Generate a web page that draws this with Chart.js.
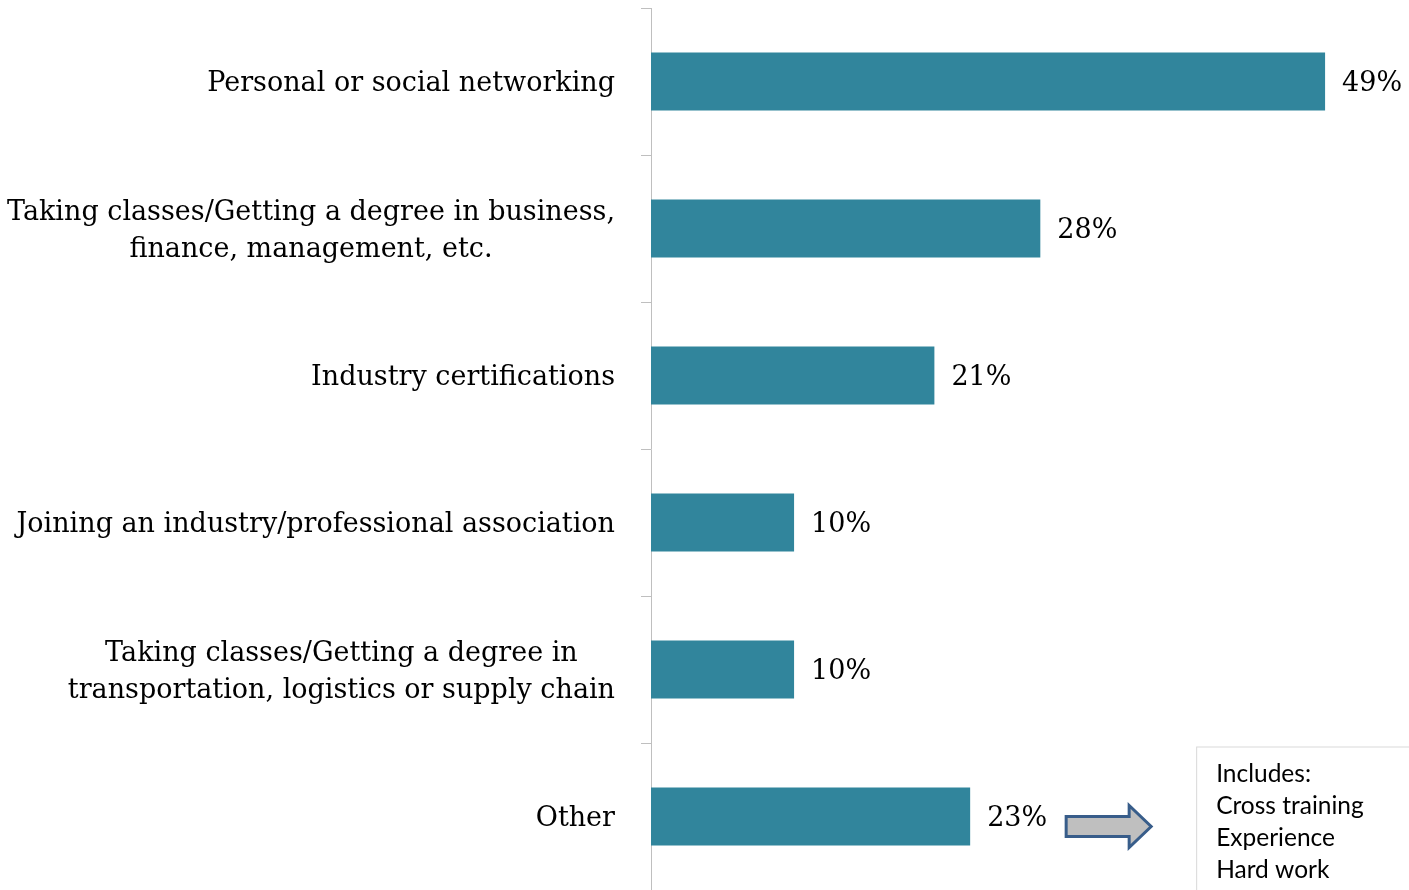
<!DOCTYPE html>
<html><head><meta charset="utf-8">
<script src="https://cdn.jsdelivr.net/npm/chart.js@4"></script>
<style>html,body{margin:0;padding:0;background:#fff;overflow:hidden}#wrap{width:1409px;height:890px}</style>
</head><body><div id="wrap"><canvas id="c" width="1409" height="890"></canvas></div>
<script>
const categories = [
  ["Personal or social networking"],
  ["Taking classes/Getting a degree in business,", "finance, management, etc."],
  ["Industry certifications"],
  ["Joining an industry/professional association"],
  ["Taking classes/Getting a degree in", "transportation, logistics or supply chain"],
  ["Other"]
];
const values = [49, 28.3, 20.6, 10.4, 10.4, 23.2];
const valueLabels = ["49%", "28%", "21%", "10%", "10%", "23%"];
const noteLines = ["Includes:", "Cross training", "Experience", "Hard work"];

const SERIF = '27px "DejaVu Serif", serif';
const SANS = '24.5px Lato, "Noto Sans", sans-serif';

const overlay = {
  id: 'overlay',
  afterDraw(chart) {
    const ctx = chart.ctx;
    const y = chart.scales.y;
    ctx.save();
    ctx.font = SERIF; ctx.fillStyle = '#000'; ctx.textBaseline = 'middle';
    const right = y.right - 10 - 26;
    categories.forEach((lines, i) => {
      const cy = y.getPixelForValue(i) + 2.5;
      const lh = 37;
      const w = Math.max(...lines.map(l => ctx.measureText(l).width));
      const top = cy - (lines.length - 1) * lh / 2;
      ctx.textAlign = 'center';
      lines.forEach((l, k) => ctx.fillText(l, right - w / 2, top + k * lh));
    });
    ctx.textAlign = 'left';
    const meta = chart.getDatasetMeta(0);
    meta.data.forEach((bar, i) => {
      ctx.fillText(valueLabels[i], bar.x + 17, bar.y + 2.5);
    });
    const last = meta.data[meta.data.length - 1];
    const ax = last.x + 96, ay = last.y + 10;
    ctx.beginPath();
    ctx.moveTo(ax, ay - 10);
    ctx.lineTo(ax + 63, ay - 10);
    ctx.lineTo(ax + 63, ay - 21);
    ctx.lineTo(ax + 85, ay);
    ctx.lineTo(ax + 63, ay + 21);
    ctx.lineTo(ax + 63, ay + 10);
    ctx.lineTo(ax, ay + 10);
    ctx.closePath();
    ctx.fillStyle = '#BFBFBF'; ctx.fill();
    ctx.lineWidth = 3; ctx.strokeStyle = '#385D8A'; ctx.lineJoin = 'miter'; ctx.stroke();
    const bx = last.x + 226, by = last.y - 70;
    ctx.fillStyle = '#fff';
    ctx.fillRect(bx, by, 400, 300);
    ctx.lineWidth = 1; ctx.strokeStyle = '#D9D9D9';
    ctx.strokeRect(bx + 0.5, by + 0.5, 400, 300);
    ctx.font = SANS; ctx.fillStyle = '#000'; ctx.textBaseline = 'middle';
    noteLines.forEach((l, k) => ctx.fillText(l, bx + 20, by + 28 + k * 32));
    ctx.restore();
  }
};

new Chart(document.getElementById('c'), {
  type: 'bar',
  data: {
    labels: categories,
    datasets: [{
      data: values,
      backgroundColor: '#31859C',
      borderWidth: 0,
      categoryPercentage: 1,
      barPercentage: 58 / 147
    }]
  },
  options: {
    indexAxis: 'y',
    responsive: false,
    animation: false,
    devicePixelRatio: 1,
    layout: { padding: { top: 8, left: 0, right: 0, bottom: 0 } },
    plugins: { legend: { display: false }, tooltip: { enabled: false } },
    scales: {
      x: { display: false, min: 0, max: 55.1 },
      y: {
        position: 'left',
        grid: { drawOnChartArea: false, drawTicks: true, tickLength: 10, color: '#BFBFBF', offset: true },
        border: { color: '#BFBFBF', width: 1 },
        ticks: { display: false },
        afterFit(s) { s.width = 651; }
      }
    }
  },
  plugins: [overlay]
});
</script></body></html>
